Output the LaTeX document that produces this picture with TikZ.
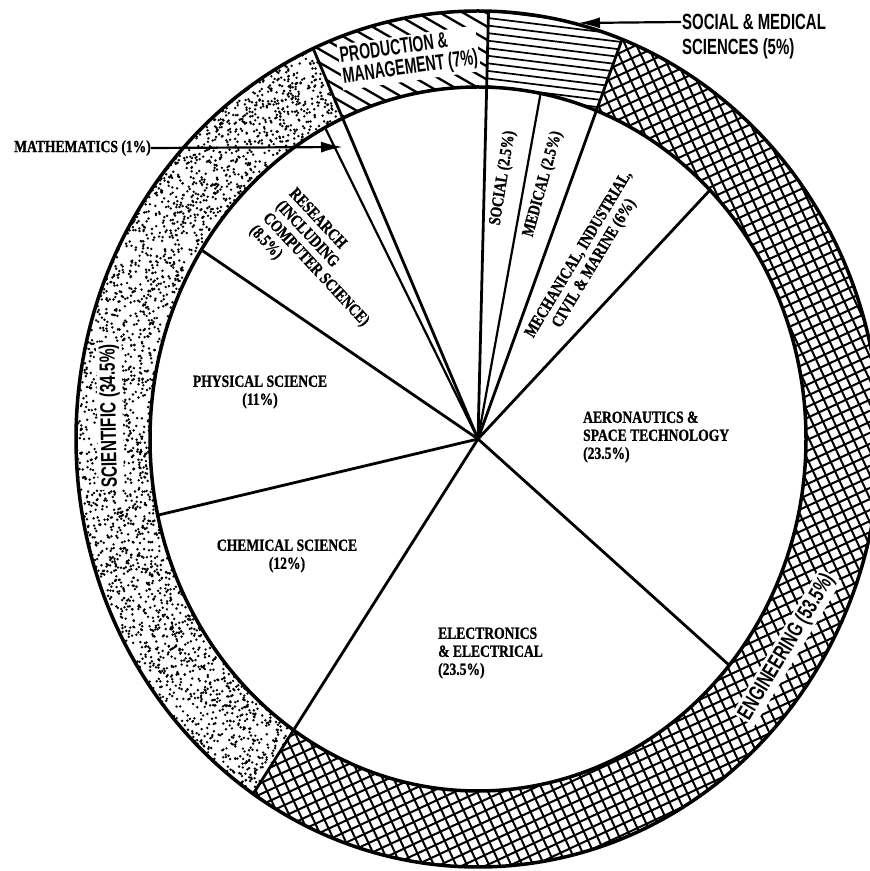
\documentclass[tikz,border=0pt]{standalone}
\usepackage{fontspec}
\newfontfamily\ringfont{Liberation Sans Bold}
\newfontfamily\piefont[FakeBold=1.2]{Liberation Serif Bold}
\usetikzlibrary{arrows.meta}

\tikzset{
  pielabel/.style={font=\piefont\fontsize{17}{18}\selectfont, inner sep=0pt, transform shape},
  ringlabel/.style={font=\ringfont\fontsize{22}{21}\selectfont, inner sep=2.5pt, fill=white, transform shape},
  calloutlabel/.style={font=\ringfont\fontsize{22}{25}\selectfont, inner sep=0pt, transform shape},
  spoke/.style={line width=2.8pt},
  thinspoke/.style={line width=2.2pt},
  rim/.style={line width=3.5pt},
  callout/.style={line width=2.2pt, -{Latex[length=22pt,width=11pt]}},
}

% centre and radii of the two ellipses (inner pie, outer ring)
\def\cx{478}\def\cy{432}
\def\rxi{328}\def\ryi{352}\def\rxo{402}\def\ryo{428}
\newcommand\innerpt[1]{({\cx+\rxi*cos(#1)},{\cy+\ryi*sin(#1)})}
\newcommand\outerpt[1]{({\cx+\rxo*cos(#1)},{\cy+\ryo*sin(#1)})}
\newcommand\ringseg[2]{\innerpt{#1} arc[start angle=#1, end angle=#2, x radius=\rxi, y radius=\ryi] -- \outerpt{#2} arc[start angle=#2, end angle=#1, x radius=\rxo, y radius=\ryo] -- cycle}

\begin{document}
\begin{tikzpicture}[x=1pt,y=1pt]
\fill[white] (0,0) rectangle (870,871);
\useasboundingbox (0,0) rectangle (870,871);

\coordinate (C) at (\cx,\cy);

% ---------- outer ring fills ----------
% scientific: stipple
\begin{scope}
  \clip \ringseg{114.2}{236};
  \pgfmathsetseed{42}
  \foreach \k in {1,...,2700}{
    \pgfmathsetmacro\dt{114.2+121.8*rnd}
    \pgfmathsetmacro\ds{rnd}
    \fill ({\cx+(\rxi+\ds*74)*cos(\dt)},{\cy+(\ryi+\ds*76)*sin(\dt)}) circle (1.35);
  }
\end{scope}

% production & management: diagonal hatching
\begin{scope}
  \clip \ringseg{88.5}{114.2};
  \begin{scope}[rotate around={-30:(400,815)}]
    \foreach \k in {-14,...,14}
      \draw[line width=2.3pt] (240,{815+\k*11.5}) -- (570,{815+\k*11.5});
  \end{scope}
\end{scope}

% social & medical sciences: horizontal ruling
\begin{scope}
  \clip \ringseg{69}{88.5};
  \begin{scope}[rotate around={-7:(550,800)}]
    \foreach \k in {-16,...,16}
      \draw[line width=1.7pt] (440,{800+\k*7.5}) -- (670,{800+\k*7.5});
  \end{scope}
\end{scope}

% engineering: cross-hatching
\begin{scope}
  \clip \ringseg{-124}{69};
  \begin{scope}[rotate around={25:(\cx,\cy)}]
    \foreach \k in {-46,...,46}{
      \draw[line width=2pt] ({\cx+\k*10},{\cy-465}) -- ({\cx+\k*10},{\cy+465});
      \draw[line width=2pt] ({\cx-465},{\cy+\k*10}) -- ({\cx+465},{\cy+\k*10});
    }
  \end{scope}
\end{scope}

% ---------- ring labels ----------
\node[ringlabel, rotate=8, xscale=0.64, align=left] (lprod) at (409,813) {PRODUCTION \&\\MANAGEMENT (7\%)};
\node[ringlabel, rotate=91, xscale=0.7] (lsci) at (110,455) {SCIENTIFIC (34.5\%)};
\node[ringlabel, rotate=59, xscale=0.7] (leng) at (787,224) {ENGINEERING (53.5\%)};

% ---------- rims ----------
\draw[rim] (C) ellipse [x radius=\rxo, y radius=\ryo];
\draw[rim] (C) ellipse [x radius=\rxi, y radius=\ryi];

% ---------- spokes ----------
\path \outerpt{88.5} coordinate (o-top);
\path \innerpt{79} coordinate (i-soc);
\path \outerpt{69} coordinate (o-med);
\path \innerpt{45} coordinate (i-mech);
\path \innerpt{-40} coordinate (i-aero);
\path \outerpt{-124} coordinate (o-elec);
\path \innerpt{192.5} coordinate (i-chem);
\path \innerpt{147.5} coordinate (i-phys);
\path \innerpt{117.8} coordinate (i-res);
\path \outerpt{114.2} coordinate (o-math);

\draw[spoke] (C) -- (o-top);
\draw[thinspoke] (C) -- (i-soc);
\draw[spoke] (C) -- (o-med);
\draw[spoke] (C) -- (i-mech);
\draw[spoke] (C) -- (i-aero);
\draw[spoke] (C) -- (o-elec);
\draw[spoke] (C) -- (i-chem);
\draw[spoke] (C) -- (i-phys);
\draw[thinspoke] (C) -- (i-res);
\draw[spoke] (C) -- (o-math);

% ---------- pie labels ----------
\node[pielabel, rotate=81, xscale=0.8] (lsoc) at (503,693) {SOCIAL (2.5\%)};
\node[pielabel, rotate=74.5, xscale=0.8] (lmed) at (543,687) {MEDICAL (2.5\%)};
\node[pielabel, rotate=59, xscale=0.8, align=center] (lmech) at (587,612) {MECHANICAL, INDUSTRIAL,\\CIVIL \& MARINE (6\%)};
\node[pielabel, xscale=0.8, anchor=west, align=left] (laero) at (583,434) {AERONAUTICS \&\\SPACE TECHNOLOGY\\(23.5\%)};
\node[pielabel, xscale=0.8, anchor=west, align=left] (lelec) at (438,218) {ELECTRONICS\\\& ELECTRICAL\\(23.5\%)};
\node[pielabel, xscale=0.8, align=center] (lchem) at (287,315) {CHEMICAL SCIENCE\\(12\%)};
\node[pielabel, xscale=0.8, align=center] (lphys) at (260,479) {PHYSICAL SCIENCE\\(11\%)};
\node[pielabel, rotate=-47, xscale=0.8, align=left] (lres) at (322,607) {RESEARCH\\(INCLUDING\\COMPUTER SCIENCE)\\(8.5\%)};

% ---------- call-outs ----------
\node[pielabel, xscale=0.8, anchor=east] (lmath) at (151,723) {MATHEMATICS (1\%)};
\coordinate (mathtip) at (343,724);
\draw[callout] (lmath.east) -- (mathtip);

\node[calloutlabel, xscale=0.68, anchor=north west, align=left] (lsm) at (682,857) {SOCIAL \& MEDICAL\\SCIENCES (5\%)};
\coordinate (smstart) at (681,849);
\coordinate (smtip) at (578,848);
\draw[callout] (smstart) -- (smtip);
\end{tikzpicture}
\end{document}
